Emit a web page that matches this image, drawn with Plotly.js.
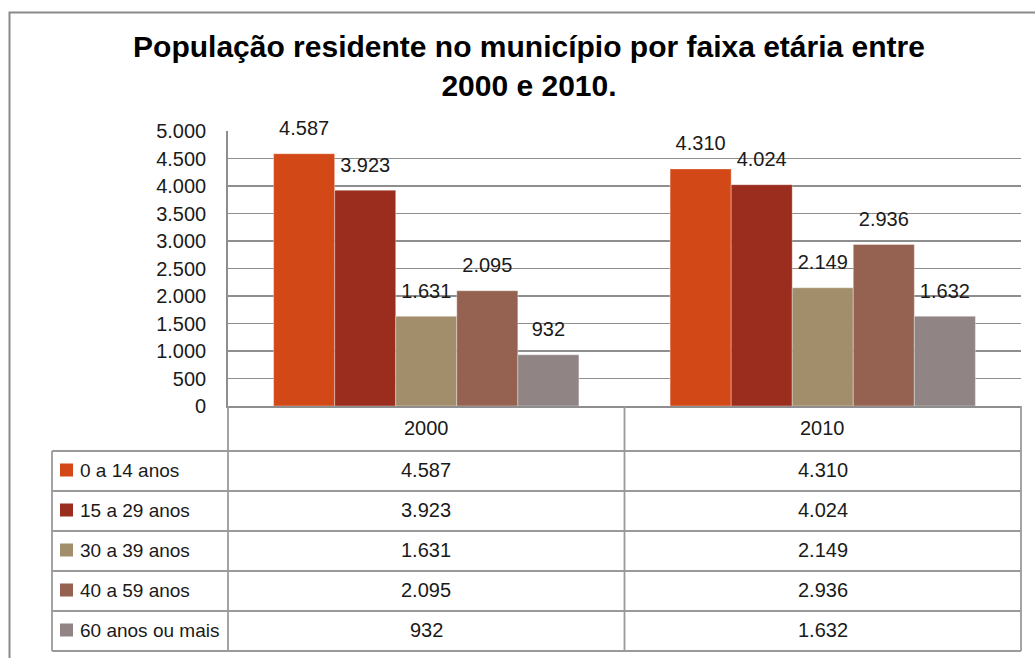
<!DOCTYPE html>
<html>
<head>
<meta charset="utf-8">
<script src="https://cdn.plot.ly/plotly-3.0.1.min.js"></script>
<style>
  html, body { margin: 0; padding: 0; background: #fff; }
  #chart { width: 1035px; height: 658px; }
</style>
</head>
<body>
<div id="chart"></div>
<script>
// ---- data ----
const years = ['2000', '2010'];
const groups = ['0 a 14 anos', '15 a 29 anos', '30 a 39 anos', '40 a 59 anos', '60 anos ou mais'];
const age0to14 = [4587, 4310];
const age15to29 = [3923, 4024];
const age30to39 = [1631, 2149];
const age40to59 = [2095, 2936];
const age60plus = [932, 1632];
const yTicks = [0, 500, 1000, 1500, 2000, 2500, 3000, 3500, 4000, 4500, 5000];

const seriesValues = [age0to14, age15to29, age30to39, age40to59, age60plus];
const colors = ['#D34817', '#9B2D1F', '#A28E6A', '#956251', '#918485'];

// ---- layout constants (pixels) ----
const W = 1035, H = 658;
const L = 228, R = 1021, T = 131, B = 406;
const fx = px => (px - L) / (R - L);
const fy = py => (B - py) / (B - T);
const fmt = v => String(v).replace(/\B(?=(\d{3})+(?!\d))/g, '.');

const FONT = 'Liberation Sans, Arial, sans-serif';
const TXT = '#1a1a1a';
const GRID = '#8e8e8e';
const TABLE = '#9a9a9a';
const LABEL_GAP = 210; // invisible spacer (data units) lifting the value labels

const traces = [];
seriesValues.forEach((vals, i) => {
  traces.push({
    type: 'bar', x: years, y: vals, name: groups[i],
    offsetgroup: String(i),
    marker: { color: colors[i], line: { color: 'rgba(255,255,255,0.35)', width: 1 } },
    hoverinfo: 'y+name'
  });
});
seriesValues.forEach((vals, i) => {
  traces.push({
    type: 'bar', x: years, y: vals.map(() => LABEL_GAP), base: vals,
    offsetgroup: String(i), showlegend: false,
    marker: { color: 'rgba(0,0,0,0)' },
    text: vals.map(fmt), textposition: 'outside',
    textangle: 0, constraintext: 'none', cliponaxis: false,
    textfont: { family: FONT, size: 20, color: TXT },
    hoverinfo: 'skip'
  });
});

// ---- data table (shapes + annotations) ----
const shapes = [];
const line = (x0, y0, x1, y1) => shapes.push({
  type: 'line', xref: 'paper', yref: 'paper',
  x0: fx(x0), x1: fx(x1), y0: fy(y0), y1: fy(y1),
  line: { color: TABLE, width: 1.8 }, layer: 'above'
});
const rowTop = 451, rowH = 40;
for (let r = 0; r <= groups.length; r++) line(52, rowTop + r * rowH, R, rowTop + r * rowH);
line(52, rowTop, 52, rowTop + groups.length * rowH);
line(L, B, L, rowTop + groups.length * rowH);
line(R, B, R, rowTop + groups.length * rowH);
shapes.push({
  type: 'line', xref: 'x', yref: 'paper', x0: 0.5, x1: 0.5,
  y0: fy(B), y1: fy(rowTop + groups.length * rowH),
  line: { color: TABLE, width: 1.8 }
});
// outer chart border
shapes.push({
  type: 'rect', xref: 'paper', yref: 'paper',
  x0: fx(9.5), x1: fx(1060), y0: fy(12.5), y1: fy(700),
  line: { color: '#8a8a8a', width: 2 }
});

const annotations = [];
years.forEach((yr, j) => annotations.push({
  xref: 'x', yref: 'paper', x: j, y: fy(428), text: yr, showarrow: false,
  xanchor: 'center', yanchor: 'middle', font: { family: FONT, size: 20, color: TXT }
}));
groups.forEach((g, r) => {
  const cy = rowTop + r * rowH + rowH / 2 - 1;
  shapes.push({
    type: 'rect', xref: 'paper', yref: 'paper',
    x0: fx(60), x1: fx(73), y0: fy(cy - 6.5), y1: fy(cy + 6.5),
    fillcolor: colors[r], line: { width: 0 }
  });
  annotations.push({
    xref: 'paper', yref: 'paper', x: fx(78), y: fy(cy), text: g, showarrow: false,
    xanchor: 'left', yanchor: 'middle', font: { family: FONT, size: 19, color: TXT }
  });
  years.forEach((yr, j) => annotations.push({
    xref: 'x', yref: 'paper', x: j, y: fy(cy), text: fmt(seriesValues[r][j]), showarrow: false,
    xanchor: 'center', yanchor: 'middle', font: { family: FONT, size: 20, color: TXT }
  }));
});

const layout = {
  width: W, height: H,
  margin: { l: L, r: W - R, t: T, b: H - B, pad: 0 },
  paper_bgcolor: '#fff', plot_bgcolor: '#fff',
  separators: ',.',
  barmode: 'group', bargap: 0.23, bargroupgap: 0,
  showlegend: false,
  font: { family: FONT, size: 20, color: TXT },
  title: {
    text: 'População residente no município por faixa etária entre<br>2000 e 2010.',
    font: { family: FONT, size: 30, weight: 'bold', color: '#000' },
    xref: 'container', yref: 'container', x: 529 / W, xanchor: 'center',
    y: 1 - 57 / H, yanchor: 'top'
  },
  xaxis: {
    type: 'category', range: [-0.5, 1.5], autorange: false,
    showticklabels: false, ticks: '', showgrid: false,
    showline: true, linecolor: GRID, linewidth: 1.8, zeroline: false, fixedrange: true
  },
  yaxis: {
    range: [0, 5000], autorange: false, tickvals: yTicks, tickformat: ',d',
    showgrid: true, gridcolor: GRID, gridwidth: 1.6,
    showline: true, linecolor: GRID, linewidth: 1.8, zeroline: false,
    ticks: 'outside', ticklen: 16, tickcolor: 'rgba(0,0,0,0)',
    tickfont: { family: FONT, size: 20, color: TXT }, fixedrange: true
  },
  shapes, annotations
};

Plotly.newPlot('chart', traces, layout, { displayModeBar: false, staticPlot: true });
</script>
</body>
</html>
